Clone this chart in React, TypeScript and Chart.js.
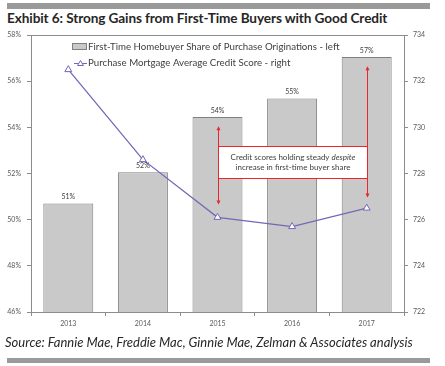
import React, { useEffect, useRef } from "react";
import { Chart, registerables } from "chart.js";

Chart.register(...registerables);

const categories = ["2013", "2014", "2015", "2016", "2017"];
const firstTimeShare = [50.7, 52.05, 54.45, 55.25, 57.05];
const shareLabels = ["51%", "52%", "54%", "55%", "57%"];
const creditScore = [732.5, 728.6, 726.1, 725.7, 726.5];
const leftTicks = [46, 48, 50, 52, 54, 56, 58];
const rightTicks = [722, 724, 726, 728, 730, 732, 734];
// annotation arrows: category index, top and bottom on right axis
const arrowCats = [2, 4];
const arrowTops = [730.0, 732.6];
const arrowBottoms = [726.7, 727.0];
// annotation box on right axis values
const boxScores = [729.2, 727.8];
const boxLines = ["Credit scores holding steady ", "despite", " increase in first-time buyer share"];

const FONT = "Lato, 'Open Sans', sans-serif";
const AXIS = "#8c8c8c";
const BAR_FILL = "#c9c9c9";
const BAR_EDGE = "#808080";
const LINE = "#7566b8";
const RED = "#e8262c";

export default function App() {
  const ref = useRef<HTMLCanvasElement | null>(null);

  useEffect(() => {
    document.body.style.margin = "0";
    const canvas = ref.current;
    if (!canvas) return;

    const overlay = {
      id: "overlay",
      afterDatasetsDraw(chart: any) {
        const ctx = chart.ctx;
        const { left, right, top } = chart.chartArea;
        const x = chart.scales.x;
        const yR = chart.scales.yR;
        ctx.save();
        // top border
        ctx.strokeStyle = AXIS;
        ctx.lineWidth = 1;
        ctx.beginPath();
        ctx.moveTo(left, Math.round(top) + 0.5);
        ctx.lineTo(right, Math.round(top) + 0.5);
        ctx.stroke();

        // bar labels
        const meta = chart.getDatasetMeta(0);
        ctx.fillStyle = "#404040";
        ctx.font = `7px ${FONT}`;
        ctx.textAlign = "center";
        ctx.textBaseline = "bottom";
        meta.data.forEach((bar: any, i: number) => {
          ctx.fillText(shareLabels[i], bar.x, bar.y - 3);
        });

        // annotation arrows
        ctx.strokeStyle = RED;
        ctx.fillStyle = RED;
        ctx.lineWidth = 1;
        arrowCats.forEach((ci, k) => {
          const ax = Math.round(x.getPixelForValue(ci)) + 0.5;
          const y1 = yR.getPixelForValue(arrowTops[k]);
          const y2 = yR.getPixelForValue(arrowBottoms[k]);
          ctx.beginPath();
          ctx.moveTo(ax, y1);
          ctx.lineTo(ax, y2);
          ctx.stroke();
          ctx.beginPath();
          ctx.moveTo(ax, y1 - 1);
          ctx.lineTo(ax - 2, y1 + 3);
          ctx.lineTo(ax + 2, y1 + 3);
          ctx.closePath();
          ctx.fill();
          ctx.beginPath();
          ctx.moveTo(ax, y2 + 1);
          ctx.lineTo(ax - 2, y2 - 3);
          ctx.lineTo(ax + 2, y2 - 3);
          ctx.closePath();
          ctx.fill();
        });

        // annotation box
        const bx1 = Math.round(x.getPixelForValue(arrowCats[0])) + 0.5;
        const bx2 = Math.round(x.getPixelForValue(arrowCats[1])) + 0.5;
        const by1 = Math.round(yR.getPixelForValue(boxScores[0])) + 0.5;
        const by2 = Math.round(yR.getPixelForValue(boxScores[1])) + 0.5;
        ctx.fillStyle = "#ffffff";
        ctx.fillRect(bx1, by1, bx2 - bx1, by2 - by1);
        ctx.strokeStyle = RED;
        ctx.strokeRect(bx1, by1, bx2 - bx1, by2 - by1);
        const cx = (bx1 + bx2) / 2;
        const cy = (by1 + by2) / 2;
        ctx.fillStyle = "#404040";
        ctx.textBaseline = "middle";
        const f1 = `8px ${FONT}`;
        const f2 = `italic 8px ${FONT}`;
        ctx.font = f1;
        const w1 = ctx.measureText(boxLines[0]).width;
        ctx.font = f2;
        const w2 = ctx.measureText(boxLines[1]).width;
        const sx = cx - (w1 + w2) / 2;
        ctx.textAlign = "left";
        ctx.font = f1;
        ctx.fillText(boxLines[0], sx, cy - 5);
        ctx.font = f2;
        ctx.fillText(boxLines[1], sx + w1, cy - 5);
        ctx.font = f1;
        ctx.textAlign = "center";
        ctx.fillText(boxLines[2].trim(), cx, cy + 5);

        // legend
        const lx = left + 41;
        const ly1 = top + 12;
        const ly2 = top + 28;
        ctx.fillStyle = BAR_FILL;
        ctx.strokeStyle = BAR_EDGE;
        ctx.fillRect(lx + 0.5, ly1 - 3.5, 14, 6);
        ctx.strokeRect(lx + 0.5, ly1 - 3.5, 14, 6);
        ctx.strokeStyle = LINE;
        ctx.beginPath();
        ctx.moveTo(lx + 2, ly2 + 0.5);
        ctx.lineTo(lx + 15, ly2 + 0.5);
        ctx.stroke();
        ctx.fillStyle = "#ffffff";
        ctx.beginPath();
        ctx.moveTo(lx + 8.5, ly2 - 2.5);
        ctx.lineTo(lx + 5.5, ly2 + 2.5);
        ctx.lineTo(lx + 11.5, ly2 + 2.5);
        ctx.closePath();
        ctx.fill();
        ctx.stroke();
        ctx.fillStyle = "#404040";
        ctx.font = `9.7px ${FONT}`;
        ctx.textAlign = "left";
        ctx.textBaseline = "middle";
        ctx.fillText(chart.data.datasets[0].label, lx + 16, ly1);
        ctx.fillText(chart.data.datasets[1].label, lx + 16, ly2);
        ctx.restore();
      },
    };

    const chart = new Chart(canvas, {
      type: "bar",
      data: {
        labels: categories,
        datasets: [
          {
            type: "bar",
            label: "First-Time Homebuyer Share of Purchase Originations - left",
            data: firstTimeShare,
            backgroundColor: BAR_FILL,
            borderColor: BAR_EDGE,
            borderWidth: 1,
            borderSkipped: "bottom",
            barPercentage: 0.67,
            categoryPercentage: 1,
            yAxisID: "y",
            order: 2,
          },
          {
            type: "line",
            label: "Purchase Mortgage Average Credit Score - right",
            data: creditScore,
            borderColor: LINE,
            borderWidth: 1.3,
            pointStyle: "triangle",
            pointRadius: 4,
            pointBackgroundColor: "#ffffff",
            pointBorderColor: LINE,
            pointBorderWidth: 1,
            tension: 0,
            yAxisID: "yR",
            order: 1,
          } as any,
        ],
      },
      options: {
        responsive: false,
        animation: false,
        devicePixelRatio: 1,
        layout: { padding: { top: 35, bottom: 32, left: 0, right: 0 } },
        plugins: { legend: { display: false }, tooltip: { enabled: false } },
        scales: {
          x: {
            offset: true,
            grid: { display: true, drawOnChartArea: false, offset: true, tickLength: 4, color: AXIS },
            border: { color: AXIS },
            ticks: { color: "#595959", font: { family: FONT, size: 7 }, padding: 4 },
            afterFit(s: any) { s.height = 22; },
          },
          y: {
            position: "left",
            min: 46,
            max: 58,
            afterBuildTicks(s: any) { s.ticks = leftTicks.map((v) => ({ value: v })); },
            ticks: { color: "#595959", font: { family: FONT, size: 7 }, padding: 6, callback: (v: any) => `${v}%` },
            grid: { drawOnChartArea: false, tickLength: 4, color: AXIS },
            border: { color: AXIS },
            afterFit(s: any) { s.width = 31; },
          },
          yR: {
            position: "right",
            min: 722,
            max: 734,
            afterBuildTicks(s: any) { s.ticks = rightTicks.map((v) => ({ value: v })); },
            ticks: { color: "#595959", font: { family: FONT, size: 7 }, padding: 5 },
            grid: { drawOnChartArea: false, tickLength: 4, color: AXIS },
            border: { color: AXIS },
            afterFit(s: any) { s.width = 41; },
          },
        },
      },
      plugins: [overlay],
    });
    return () => chart.destroy();
  }, []);

  return (
    <div style={{ position: "relative", width: 445, height: 366, background: "#fff", overflow: "hidden", fontFamily: FONT }}>
      <div style={{ position: "absolute", left: 7, top: 3, width: 423, height: 6, background: "#9a9a9a" }} />
      <div style={{ position: "absolute", left: 7, top: 10, fontWeight: 700, fontSize: 13.6, color: "#262626", whiteSpace: "nowrap", letterSpacing: -0.1 }}>
        Exhibit 6: Strong Gains from First-Time Buyers with Good Credit
      </div>
      <canvas ref={ref} width={445} height={366} style={{ position: "absolute", left: 0, top: 0, width: 445, height: 366 }} />
      <div style={{ position: "absolute", left: 5, top: 334, fontStyle: "italic", fontSize: 13, color: "#262626", whiteSpace: "nowrap" }}>
        Source: Fannie Mae, Freddie Mac, Ginnie Mae, Zelman &amp; Associates analysis
      </div>
      <div style={{ position: "absolute", left: 7, top: 358, width: 423, height: 5, background: "#9a9a9a" }} />
    </div>
  );
}
